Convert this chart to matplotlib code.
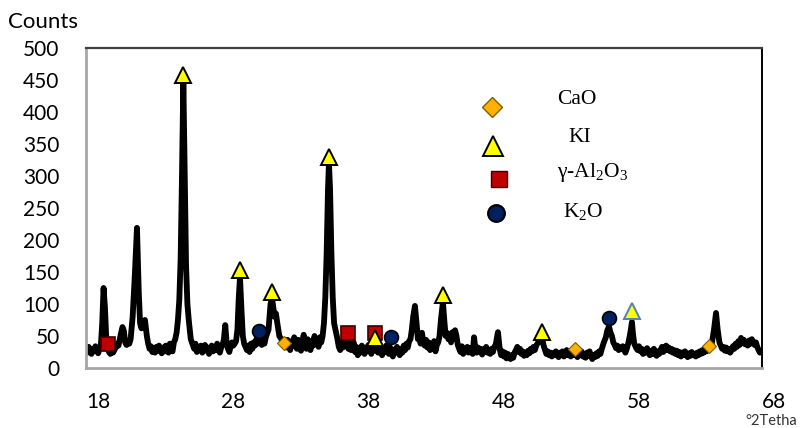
import matplotlib
matplotlib.use("Agg")
import matplotlib.pyplot as plt
import matplotlib.transforms as mtransforms

plt.rcParams['mathtext.fontset'] = 'custom'
plt.rcParams['mathtext.rm'] = 'Liberation Serif'
plt.rcParams['mathtext.it'] = 'Liberation Serif:italic'

# ---- XRD trace (2theta, counts) ----
two_theta = [
    18.0, 18.1, 18.2, 18.3, 18.4, 18.5, 18.6, 18.7, 18.8, 18.9, 19.0,
    19.1, 19.2, 19.3, 19.4, 19.5, 19.6, 19.7, 19.8, 19.9, 20.0, 20.1, 20.2, 20.3,
    20.4, 20.5, 20.6, 20.7, 20.8, 20.9, 21.0, 21.1, 21.2, 21.3, 21.45,
    21.6, 21.77, 21.9, 22.0, 22.1, 22.2, 22.36, 22.5, 22.6, 22.7,
    22.8, 22.9, 23.0, 23.1, 23.2, 23.3, 23.4, 23.5, 23.6, 23.7, 23.8, 23.9,
    24.0, 24.1, 24.2, 24.3, 24.4, 24.5,
    24.6, 24.7, 24.8, 24.9, 25.0, 25.1, 25.2, 25.3, 25.4, 25.5, 25.6, 25.75, 25.9,
    26.0, 26.1, 26.2, 26.3, 26.4, 26.5, 26.6, 26.7, 26.8, 26.9, 27.0, 27.1,
    27.2, 27.3, 27.4, 27.5, 27.6, 27.7, 27.8, 27.9, 28.0, 28.1, 28.2,
    28.3, 28.4, 28.5, 28.6, 28.7, 28.8, 28.9, 29.0, 29.1, 29.2, 29.3, 29.39,
    29.5, 29.6, 29.7, 29.8, 29.9, 30.0, 30.1, 30.2, 30.3, 30.4, 30.5, 30.6,
    30.7, 30.8, 30.9, 31.0, 31.1, 31.2, 31.3, 31.5, 31.65, 31.76, 31.85, 31.95,
    32.05, 32.15, 32.3, 32.45, 32.6, 32.7,
    32.8, 32.9, 33.0, 33.1, 33.2, 33.3, 33.4, 33.5, 33.6, 33.7, 33.8, 33.9,
    34.0, 34.1, 34.2, 34.3, 34.4, 34.5, 34.6, 34.7, 34.8, 34.9, 35.0, 35.1,
    35.2, 35.3, 35.4,
    35.5, 35.6, 35.7, 35.8, 35.9, 35.97, 36.05, 36.15, 36.25, 36.35, 36.5,
    36.6, 36.7, 36.8, 36.9,
    37.0, 37.1, 37.2, 37.3, 37.4, 37.5, 37.6, 37.7, 37.8, 37.9, 38.0, 38.1,
    38.2, 38.3, 38.4, 38.5, 38.6, 38.7, 38.8, 38.9, 39.0, 39.1, 39.2, 39.3,
    39.4, 39.5, 39.6, 39.7, 39.8, 39.9, 40.0, 40.1, 40.2, 40.3, 40.4, 40.5,
    40.6, 40.7, 40.8, 40.9, 41.0, 41.1, 41.2, 41.3, 41.4, 41.5, 41.6, 41.7,
    41.8, 41.9, 42.0, 42.1, 42.2, 42.33, 42.45, 42.55, 42.65, 42.75, 42.85,
    42.95, 43.05,
    43.15, 43.25, 43.35, 43.45, 43.55, 43.65, 43.75, 43.85, 43.95, 44.05,
    44.15, 44.25, 44.4, 44.5, 44.6, 44.7, 44.8, 44.9, 45.0, 45.1, 45.2, 45.3,
    45.4, 45.5, 45.6,
    45.7, 45.8, 45.9, 46.0, 46.1, 46.2, 46.3, 46.4, 46.5, 46.6, 46.7, 46.8,
    46.9, 47.0, 47.1, 47.2, 47.3, 47.4, 47.5, 47.6, 47.7, 47.8, 47.9, 48.0,
    48.1, 48.2, 48.3, 48.47, 48.6, 48.7, 48.8, 48.9, 49.0, 49.1, 49.2, 49.3,
    49.4, 49.5, 49.6, 49.7, 49.8, 49.9, 50.0, 50.1, 50.2, 50.3, 50.4, 50.5,
    50.6, 50.7, 50.8, 50.9, 51.0, 51.1, 51.2, 51.3, 51.45, 51.6, 51.73, 51.85,
    51.95, 52.05, 52.15,
    52.25, 52.35, 52.45, 52.55, 52.65, 52.75, 52.85, 52.95, 53.05, 53.15,
    53.25, 53.35, 53.45, 53.55, 53.65, 53.75, 53.85, 53.95, 54.05, 54.15,
    54.25, 54.35, 54.45, 54.55, 54.65, 54.75, 54.85, 54.95, 55.05, 55.15,
    55.25, 55.35, 55.45, 55.55, 55.65, 55.75, 55.85, 55.95, 56.05, 56.15,
    56.3, 56.45, 56.55, 56.68, 56.8, 56.9, 57.0, 57.1, 57.2, 57.3, 57.4, 57.5,
    57.6, 57.7, 57.8, 57.9, 58.0, 58.1, 58.2, 58.3, 58.38, 58.45, 58.55, 58.7,
    58.8, 58.9, 59.0, 59.1, 59.2, 59.3, 59.4, 59.5, 59.6, 59.7, 59.8, 59.9,
    60.0, 60.1, 60.2, 60.3, 60.4, 60.5, 60.6, 60.7, 60.8, 60.9, 61.0, 61.1,
    61.2, 61.3, 61.4, 61.5, 61.6, 61.7, 61.8, 61.9, 62.0, 62.1, 62.2, 62.3,
    62.4, 62.5, 62.6, 62.7, 62.8, 62.9, 63.0, 63.1, 63.2, 63.3, 63.4, 63.5,
    63.6, 63.7, 63.8, 63.9, 64.0, 64.1, 64.2, 64.3, 64.45, 64.6, 64.72, 64.85,
    64.95, 65.05, 65.15, 65.25, 65.35, 65.45, 65.55, 65.65, 65.75, 65.85,
    65.95, 66.05, 66.15, 66.25, 66.35, 66.45, 66.55, 66.65, 66.75, 66.85,
    66.95, 67.05, 67.15, 67.25, 67.35, 67.45, 67.55, 67.65, 67.75, 67.85, 67.95,
]
counts = [
    31, 24, 33, 27, 22, 30, 26, 34, 28, 23, 30,
    35, 70, 125, 95, 45, 30, 25, 22, 30, 24, 28, 32, 38,
    35, 45, 55, 64, 58, 40, 36, 42, 38, 45, 80,
    140, 219, 120, 70, 62, 68, 75, 50, 38, 30,
    34, 25, 31, 24, 33, 27, 35, 28, 23, 32, 26, 35,
    29, 24, 38, 30, 26, 40,
    45, 55, 75, 106, 170, 300, 450, 300, 160, 100, 75, 45, 36,
    30, 38, 25, 33, 28, 35, 24, 30, 36, 27, 32, 22,
    30, 35, 26, 33, 28, 38, 30, 24, 32, 36, 45,
    67, 40, 30, 25, 34, 40, 35, 38, 42, 60, 110, 142,
    90, 50, 38, 33, 28, 35, 25, 38, 30, 40, 35, 45,
    38, 48, 42, 36, 44, 38, 48, 60, 100, 110, 95, 80,
    85, 70, 50, 45, 35, 40,
    32, 44, 36, 28, 42, 34, 48, 38, 30, 44, 36, 27,
    40, 52, 35, 30, 45, 38, 28, 42, 35, 50, 38, 44,
    33, 48, 40,
    50, 70, 110, 180, 280, 320, 280, 180, 110, 70, 55,
    45, 33, 28, 40,
    32, 45, 35, 42, 30, 38, 28, 35, 40, 25, 33, 20,
    30, 24, 35, 28, 22, 32, 26, 36, 28, 22, 33, 27,
    38, 30, 24, 34, 28, 20, 30, 25, 35, 27, 22, 32,
    26, 18, 29, 24, 33, 26, 20, 30, 24, 35, 28, 38,
    32, 42, 45, 60, 80, 97, 70, 45, 48, 38, 55,
    40, 35,
    44, 32, 40, 28, 38, 30, 42, 26, 36, 40,
    50, 75, 103, 75, 50, 55, 45, 52, 40, 56, 45, 59,
    50, 36, 30,
    25, 34, 22, 30, 26, 33, 24, 31, 28, 22, 48, 30,
    24, 32, 26, 30, 21, 29, 25, 33, 24, 28, 22, 30,
    25, 33, 36, 56, 30, 20, 26, 18, 24, 15, 22, 18,
    14, 20, 16, 24, 28, 33, 25, 30, 22, 26, 19, 24,
    20, 27, 23, 30, 26, 33, 28, 35, 40, 45, 47, 35,
    28, 22, 26,
    20, 24, 18, 23, 20, 26, 21, 17, 24, 20,
    26, 18, 22, 28, 20, 24, 18, 23, 20, 27,
    22, 17, 24, 20, 26, 18, 22, 16, 24, 19,
    26, 18, 14, 20, 17, 23, 19, 26, 22, 30,
    40, 48, 58, 65, 55, 50, 40, 36, 31, 35, 28, 32,
    30, 34, 28, 24, 30, 38, 48, 60, 72, 55, 38, 31,
    28, 34, 26, 30, 22, 28, 24, 31, 25, 20, 27, 22,
    30, 25, 19, 26, 22, 28, 33, 25, 30, 35, 28, 32,
    26, 30, 24, 28, 22, 27, 20, 25, 18, 24, 20, 26,
    21, 17, 23, 19, 25, 20, 22, 18, 24, 20, 26, 22,
    28, 24, 30, 26, 32, 30, 35, 40, 60, 86, 60, 40,
    35, 30, 33, 27, 32, 26, 30, 24, 28, 34,
    30, 38, 33, 42, 36, 47, 40, 44, 37, 41,
    35, 43, 38, 45, 40, 36, 40, 33, 28, 24, 26,
]

# ---- phase markers ----
cao_x = [32.65, 54.17, 64.08]
cao_y = [39, 30, 35]
ki_x = [25.2, 29.39, 31.76, 35.97, 39.4, 44.4, 51.73]
ki_y = [458, 153, 119, 330, 47, 114, 57]
ki2_x = [58.38]
ki2_y = [89]
al_x = [19.63, 37.38, 39.38]
al_y = [37, 55, 55]
k2o_x = [30.8, 40.56, 56.68]
k2o_y = [58, 48, 78]

xticks = [18, 28, 38, 48, 58, 68]
yticks = list(range(0, 501, 50))

fig = plt.figure(figsize=(8.04, 4.28), dpi=100)
ax = fig.add_axes([86 / 804, 1 - 368 / 428, 676 / 804, 320 / 428])

ax.plot(two_theta, counts, color='black', lw=4.2, solid_joinstyle='round', zorder=2)

ax.plot(al_x, al_y, 's', ms=10, mfc='#c00000', mec='#3a0000', mew=1.2, zorder=3)
ax.plot(ki_x, ki_y, '^', ms=11, mfc='#ffff00', mec='black', mew=1.4, zorder=4)
ax.plot(ki2_x, ki2_y, '^', ms=11, mfc='#ffff00', mec='#4f81bd', mew=1.4, zorder=4)
ax.plot(k2o_x, k2o_y, 'o', ms=10, mfc='#002060', mec='black', mew=1.2, zorder=3)
ax.plot(cao_x, cao_y, 'D', ms=7, mfc='#ffb000', mec='#7f5f00', mew=0.8, zorder=4)

ax.set_xlim(18, 68)
ax.set_ylim(0, 500)
ax.set_xticks(xticks)
ax.set_yticks(yticks)
ax.tick_params(length=0, labelsize=15)
ax.tick_params(axis='y', pad=19)
ax.tick_params(axis='x', pad=17)
for lab in ax.get_xticklabels() + ax.get_yticklabels():
    lab.set_fontfamily('Lato')
# x labels sit a bit right of the plot box in the original
shift = mtransforms.ScaledTranslation(12 / 100, 0, fig.dpi_scale_trans)
for lab in ax.get_xticklabels():
    lab.set_transform(lab.get_transform() + shift)

ax.spines['left'].set_color('#a6a6a6')
ax.spines['bottom'].set_color('#a6a6a6')
ax.spines['left'].set_linewidth(2)
ax.spines['bottom'].set_linewidth(2)
ax.spines['top'].set_color('#404040')
ax.spines['top'].set_linewidth(1.6)
ax.spines['right'].set_color('black')
ax.spines['right'].set_linewidth(1.4)

# legend drawn by hand
leg_kw = dict(transform=ax.transAxes, clip_on=False, zorder=5)
ax.plot([0.601], [0.816], 'D', ms=10, mfc='#ffb000', mec='#7f5f00', mew=1, **leg_kw)
ax.plot([0.602], [0.694], '^', ms=15, mfc='#ffff00', mec='black', mew=1.4, **leg_kw)
ax.plot([0.611], [0.591], 's', ms=12, mfc='#c00000', mec='#3a0000', mew=1, **leg_kw)
ax.plot([0.607], [0.484], 'o', ms=12, mfc='#002060', mec='black', mew=1.6, **leg_kw)
tkw = dict(transform=ax.transAxes, fontsize=15.5, family='Liberation Serif',
           va='center', ha='left')
ax.text(0.697, 0.8375, 'CaO', **tkw)
ax.text(0.713, 0.719, 'KI', **tkw)
ax.text(0.697, 0.6125, r'γ-Al$_\mathrm{2}$O$_\mathrm{3}$', **tkw)
ax.text(0.706, 0.49, r'K$_\mathrm{2}$O', **tkw)

fig.text(8 / 804, 1 - 22 / 428, 'Counts', fontsize=16, family='Lato', va='center', ha='left')
fig.text(771 / 804, 0, '°2Tetha', fontsize=10.5, family='Lato',
         color='#333333', va='bottom', ha='center')

fig.savefig('out.png', dpi=100)
